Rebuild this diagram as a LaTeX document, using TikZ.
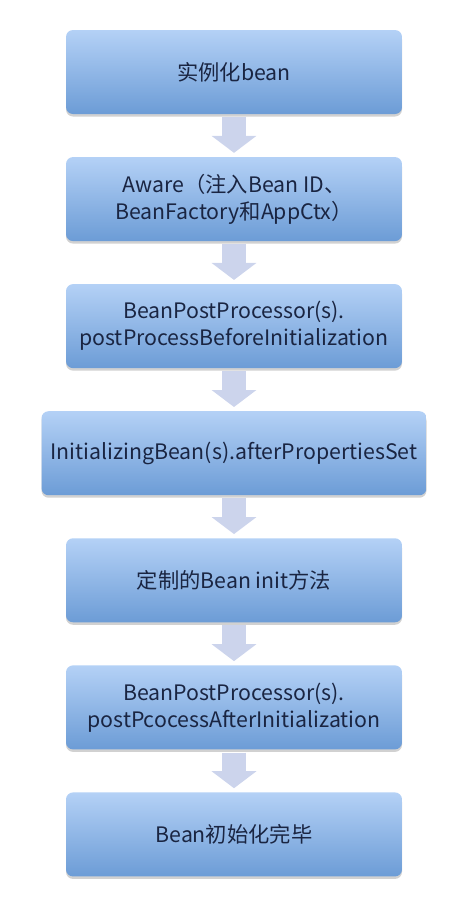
\documentclass[tikz,border=0pt]{standalone}
\usepackage{fontspec}
\setmainfont{Noto Sans CJK SC}
\usetikzlibrary{arrows.meta,positioning,shadows}
\definecolor{ink}{HTML}{1A2542}
\definecolor{boxtop}{HTML}{B4D1F6}
\definecolor{boxbot}{HTML}{6C9CD6}
\definecolor{arrowfill}{HTML}{CCD4EC}
\tikzset{
  stepbox/.style={rounded corners=7pt, top color=boxtop, bottom color=boxbot, align=center,
    minimum width=336pt, minimum height=84pt, inner sep=0pt, text=ink,
    font=\fontsize{21.3pt}{27pt}\selectfont,
    drop shadow={shadow xshift=0pt, shadow yshift=-2.5pt, opacity=0.3, fill=black!60}},
  widebox/.style={stepbox, minimum width=385pt},
  flow/.style={-{Triangle[length=17pt,width=44pt]}, line width=24pt, draw=arrowfill,
    shorten <=3pt, shorten >=4pt}
}

\begin{document}
\begin{tikzpicture}[x=1pt, y=1pt, node distance=42.67pt]
\useasboundingbox (0,0) rectangle (464,-900);
\node[stepbox] (inst) at (234,-72) {实例化bean};
\node[stepbox, below=of inst] (aware) {Aware（注入Bean ID、\\BeanFactory和AppCtx）};
\node[stepbox, below=of aware] (before) {BeanPostProcessor(s).\\postProcessBeforeInitialization};
\node[widebox, below=of before] (props) {InitializingBean(s).afterPropertiesSet};
\node[stepbox, below=of props] (init) {定制的Bean init方法};
\node[stepbox, below=of init] (after) {BeanPostProcessor(s).\\postPcocessAfterInitialization};
\node[stepbox, below=of after] (done) {Bean初始化完毕};
\draw[flow] (inst) -- (aware);
\draw[flow] (aware) -- (before);
\draw[flow] (before) -- (props);
\draw[flow] (props) -- (init);
\draw[flow] (init) -- (after);
\draw[flow] (after) -- (done);
\end{tikzpicture}
\end{document}
